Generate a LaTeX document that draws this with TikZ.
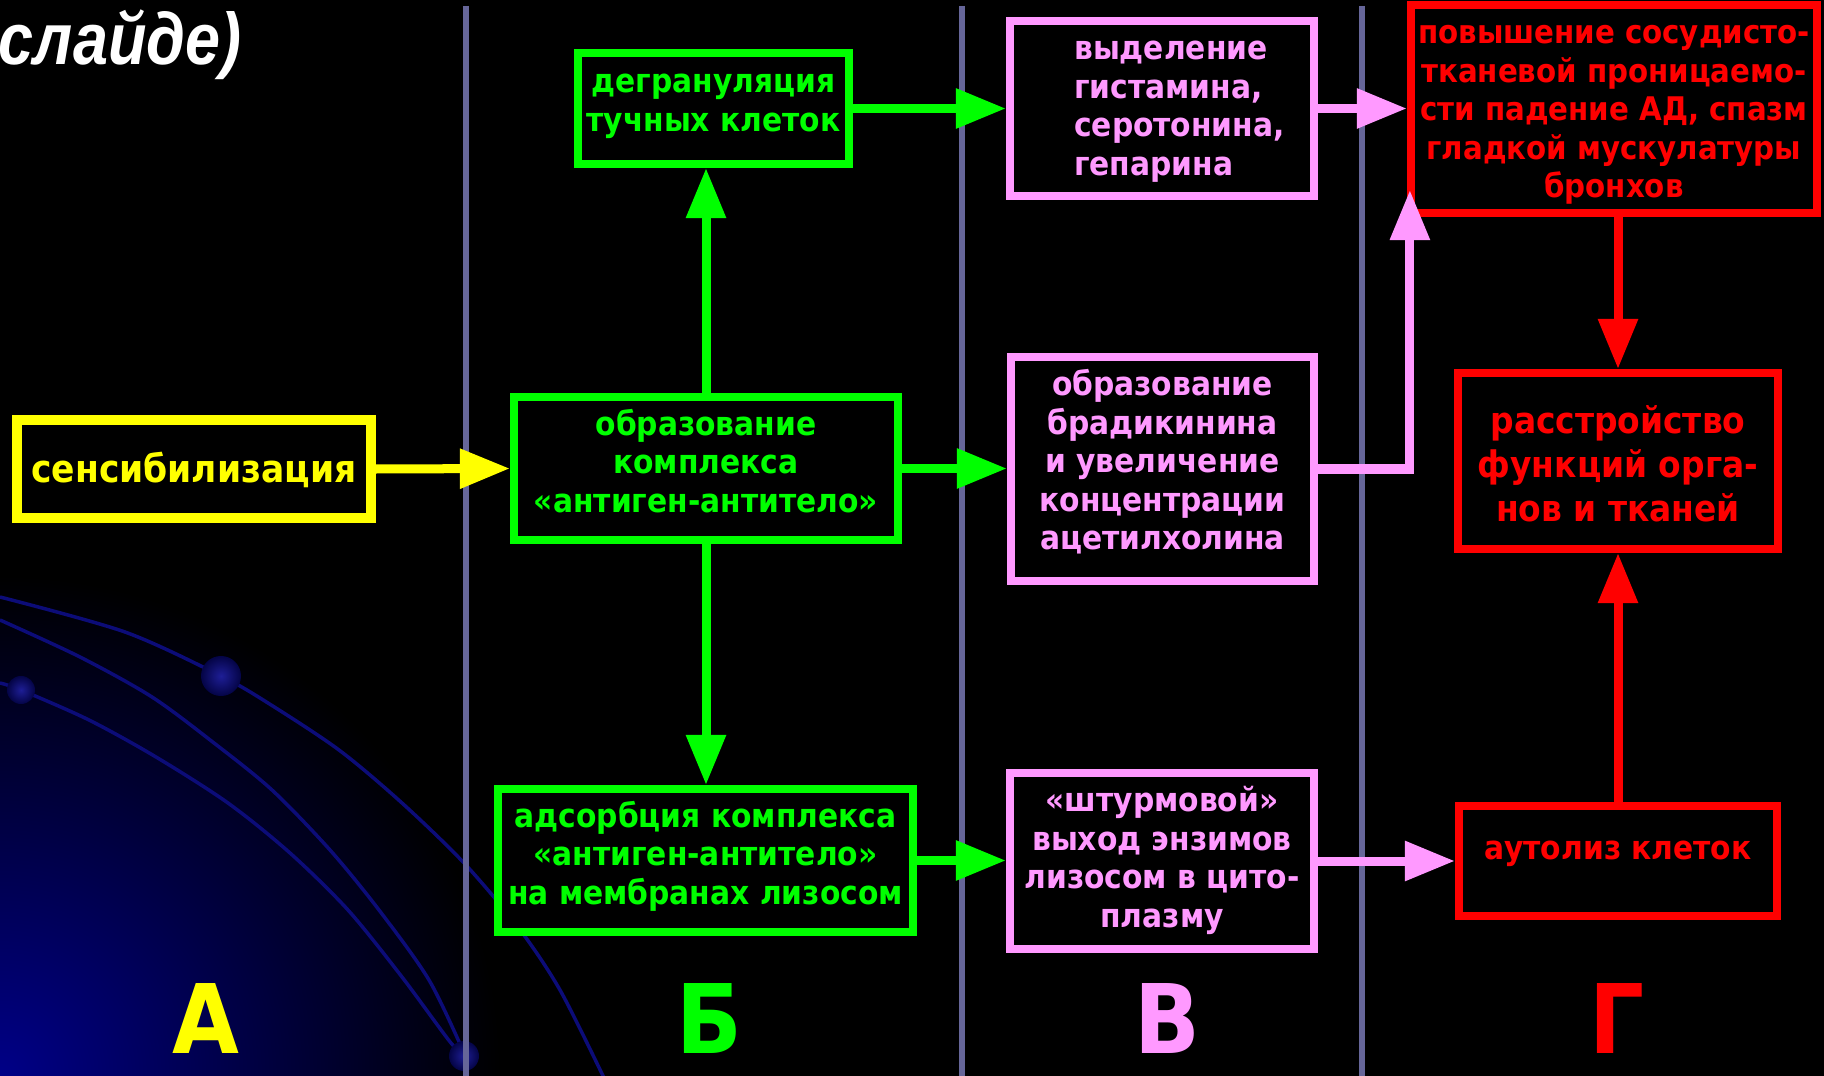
\documentclass[tikz,border=0pt]{standalone}
\usepackage{fontspec}
\usetikzlibrary{arrows.meta}
\newfontfamily\boxfont{DejaVu Sans Condensed}
\newfontfamily\titlefont{Liberation Sans}
\definecolor{boxyellow}{RGB}{255,255,0}
\definecolor{boxgreen}{RGB}{0,255,0}
\definecolor{boxpink}{RGB}{255,153,255}
\definecolor{boxred}{RGB}{255,0,0}
\definecolor{sepline}{RGB}{102,102,153}
\definecolor{orbitblue}{RGB}{12,12,120}
\definecolor{glowblue}{RGB}{0,0,135}
\definecolor{dotlight}{RGB}{30,30,150}
\definecolor{dotdark}{RGB}{4,4,70}
% lines of a box, last baseline raised by #2 from the box centre
\newcommand{\boxlines}[3][c]{\raisebox{#2}[0pt][0pt]{\begin{tabular}[b]{@{}#1@{}}#3\end{tabular}}}

\tikzset{
  box/.style={draw, line width=0.08cm, fill=black, inner sep=0pt,
    font=\boxfont\bfseries\fontsize{9.4}{10.95}\selectfont},
  yellowbox/.style={box, draw=boxyellow, text=boxyellow, line width=0.1cm},
  greenbox/.style={box, draw=boxgreen, text=boxgreen},
  pinkbox/.style={box, draw=boxpink, text=boxpink},
  redbox/.style={box, draw=boxred, text=boxred},
  arr/.style={line width=0.09cm, -{Triangle[length=0.5cm,width=0.38cm]}},
  colletter/.style={anchor=base, inner sep=0pt, font=\boxfont\bfseries\fontsize{27.3}{30}\selectfont}
}

\begin{document}
\begin{tikzpicture}[x=0.01cm, y=-0.01cm]
    \useasboundingbox (0,0) rectangle (1824,1076);
    \fill [black] (0,0) rectangle (1824,1076);
    % background glow and orbits
    \begin{scope}
    \clip (0,0) rectangle (1824,1076);
    \shade [inner color=glowblue, outer color=black] (0,1076) circle (5cm);
    \draw [orbitblue, line width=0.035cm] plot[smooth] coordinates {(0,597) (125,632) (221,676) (268,703) (339,750) (402,803) (464,863) (518,927) (560,990) (605,1080)};
    \draw [orbitblue, line width=0.035cm] plot[smooth] coordinates {(0,620) (80,657) (152,697) (214,743) (272,790) (330,850) (379,910) (429,980) (464,1053)};
    \draw [orbitblue, line width=0.035cm] plot[smooth] coordinates {(0,683) (21,690) (89,720) (156,757) (228,803) (290,853) (348,910) (402,977) (451,1043) (464,1053)};
    \shade [inner color=dotlight, outer color=dotdark] (221,676) circle (0.2cm);
    \shade [inner color=dotlight, outer color=dotdark] (21,690) circle (0.14cm);
    \shade [inner color=dotlight, outer color=dotdark] (464,1056) circle (0.15cm);
    \end{scope}
    % column separators
    \draw [sepline, line width=0.06cm] (466,6) -- (466,1076);
    \draw [sepline, line width=0.06cm] (962,6) -- (962,1076);
    \draw [sepline, line width=0.06cm] (1362,6) -- (1362,1076);
    \node [anchor=base east, inner sep=0pt, text=white, font=\titlefont\bfseries\itshape\fontsize{20.8}{24}\selectfont] (title) at (242,65) {\scalebox{0.86}[1]{слайде)}};
    % column A
    \node [yellowbox, minimum width=3.53cm, minimum height=0.98cm, font=\boxfont\bfseries\fontsize{10.9}{13}\selectfont] (sens) at (194,469) {\boxlines{-0.13cm}{сенсибилизация}};
    % column B
    \node [greenbox, minimum width=2.71cm, minimum height=1.11cm] (degr) at (713.5,108.5) {\boxlines{-0.225cm}{дегрануляция\\тучных клеток}};
    \node [greenbox, minimum width=3.84cm, minimum height=1.43cm] (compl) at (706,468.5) {\boxlines{-0.435cm}{образование\\комплекса\\«антиген-антитело»}};
    \node [greenbox, minimum width=4.15cm, minimum height=1.43cm] (adsorb) at (705.5,860.5) {\boxlines{-0.435cm}{адсорбция комплекса\\«антиген-антитело»\\на мембранах лизосом}};
    % column V
    \node [pinkbox, minimum width=3.04cm, minimum height=1.75cm] (vydel) at (1162,108.5) {\hspace*{0.35cm}\boxlines[l]{-0.668cm}{выделение\\гистамина,\\серотонина,\\гепарина}};
    \node [pinkbox, minimum width=3.03cm, minimum height=2.24cm] (brad) at (1162.5,469) {\boxlines{-0.807cm}{образование\\брадикинина\\и увеличение\\концентрации\\ацетилхолина}};
    \node [pinkbox, minimum width=3.04cm, minimum height=1.76cm] (shturm) at (1162,861) {\boxlines{-0.66cm}{«штурмовой»\\выход энзимов\\лизосом в цито-\\плазму}};
    % column G
    \node [redbox, minimum width=4.06cm, minimum height=2.08cm, font=\boxfont\bfseries\fontsize{9.25}{10.95}\selectfont] (perm) at (1614,109) {\boxlines{-0.885cm}{повышение сосудисто-\\тканевой проницаемо-\\сти падение АД, спазм\\гладкой мускулатуры\\бронхов}};
    \node [redbox, minimum width=3.20cm, minimum height=1.76cm, font=\boxfont\bfseries\fontsize{10.4}{12.5}\selectfont] (disord) at (1618,461) {\boxlines{-0.60cm}{расстройство\\функций орга-\\нов и тканей}};
    \node [redbox, minimum width=3.18cm, minimum height=1.10cm] (autol) at (1618,861) {\boxlines{0.02cm}{аутолиз клеток}};
    \coordinate (permtip) at ([xshift=0.03cm, yshift=0.27cm]perm.south west);
    % arrows
    \draw [arr, boxyellow] (sens.east) -- (compl.west);
    \draw [arr, boxgreen] (compl.north) -- (compl.north |- degr.south);
    \draw [arr, boxgreen] (compl.south) -- (compl.south |- adsorb.north);
    \draw [arr, boxgreen] (degr.east) -- (degr.east -| vydel.west);
    \draw [arr, boxgreen] (compl.east) -- (compl.east -| brad.west);
    \draw [arr, boxgreen] (adsorb.east) -- (adsorb.east -| shturm.west);
    \draw [arr, boxpink] (vydel.east) -- (vydel.east -| perm.west);
    \draw [arr, boxpink] (brad.east) -| (permtip);
    \draw [arr, boxpink] (shturm.east) -- (shturm.east -| autol.west);
    \draw [arr, boxred] (disord.north |- perm.south) -- (disord.north);
    \draw [arr, boxred] (autol.north) -- (autol.north |- disord.south);
    % column letters
    \node [colletter, text=boxyellow] (lettA) at (206,1053) {А};
    \node [colletter, text=boxgreen] (lettB) at (709,1053) {Б};
    \node [colletter, text=boxpink] (lettV) at (1167,1053) {В};
    \node [colletter, text=boxred] (lettG) at (1617,1053) {Г};
\end{tikzpicture}
\end{document}
